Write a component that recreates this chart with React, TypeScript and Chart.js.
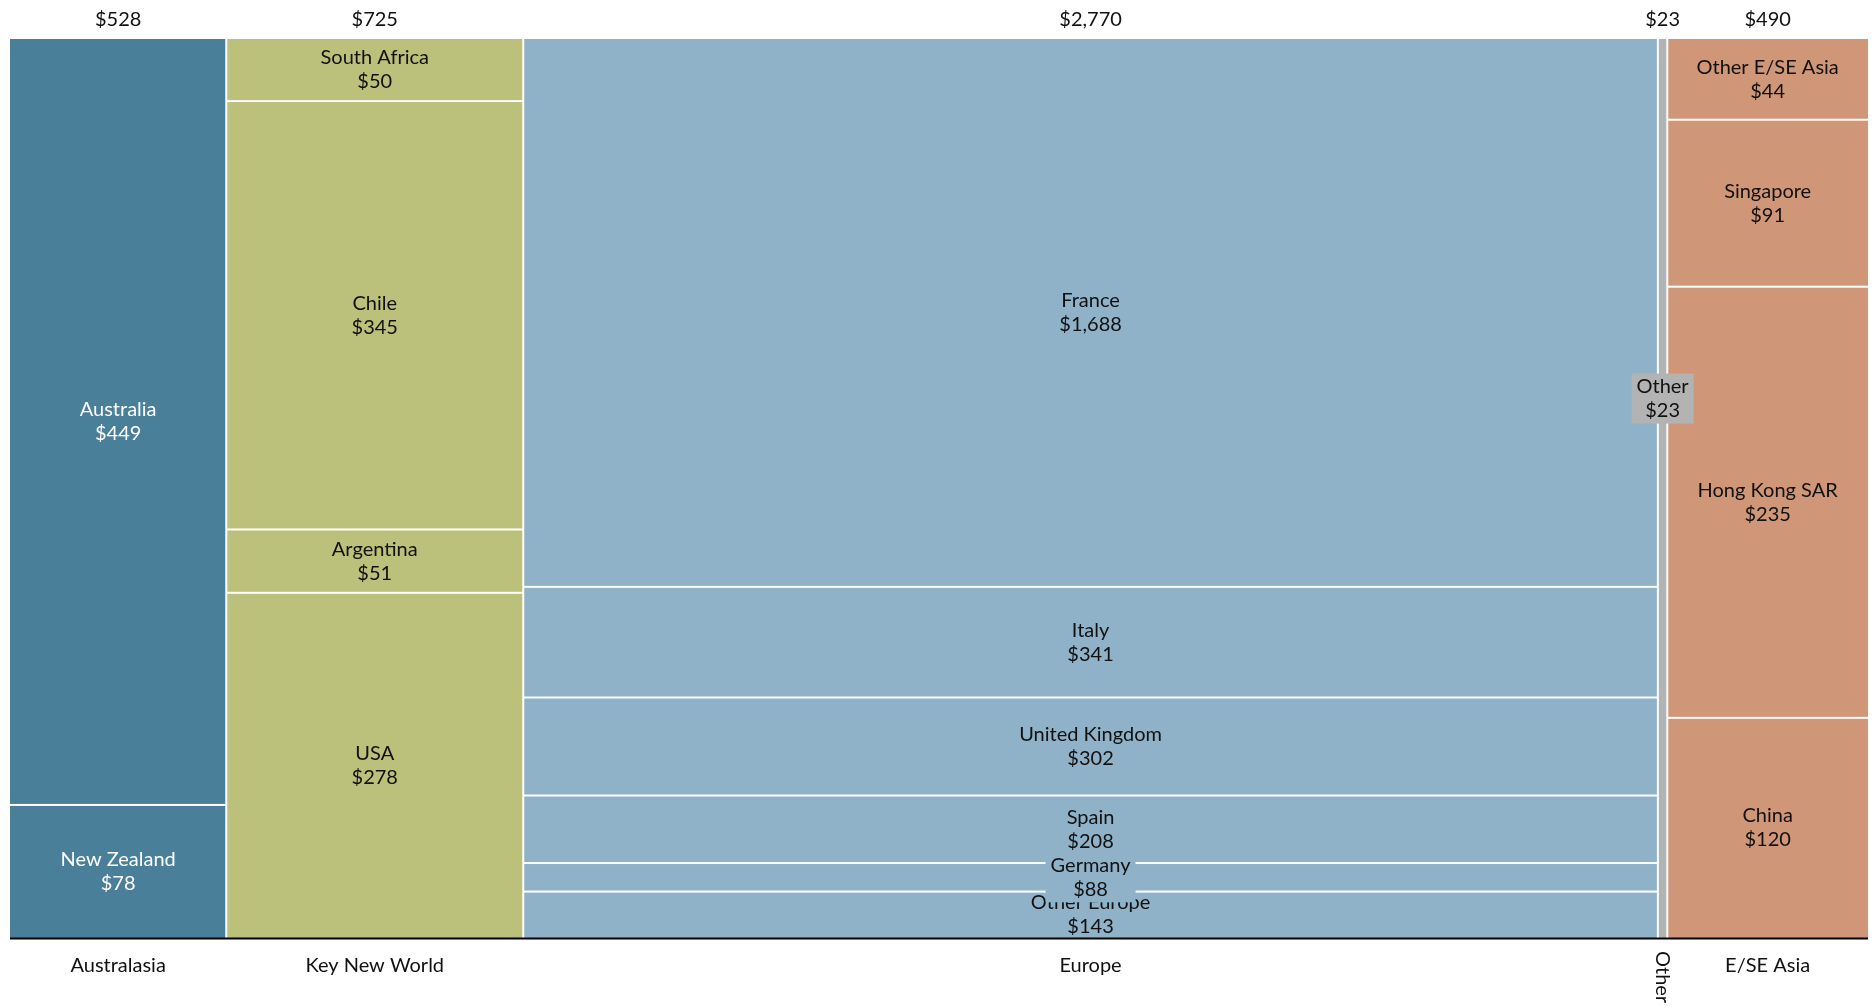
import React, { useEffect, useRef } from 'react';
import { Chart, registerables } from 'chart.js';

Chart.register(...registerables);

// ---- Data ----
const regions = ['Australasia', 'Key New World', 'Europe', 'Other', 'E/SE Asia'];
const regionTotals = [528, 725, 2770, 23, 490];
const regionColors = ['#4a7f9a', '#bbc17a', '#8fb2c8', '#b3b3b3', '#cf9677'];
const regionTextColors = ['#ffffff', '#111111', '#111111', '#111111', '#111111'];

// segments listed bottom to top
const australasiaLabels = ['New Zealand', 'Australia'];
const australasiaValues = [78, 449];
const newWorldLabels = ['USA', 'Argentina', 'Chile', 'South Africa'];
const newWorldValues = [278, 51, 345, 50];
const europeLabels = ['Other Europe', 'Germany', 'Spain', 'United Kingdom', 'Italy', 'France'];
const europeValues = [143, 88, 208, 302, 341, 1688];
const otherLabels = ['Other'];
const otherValues = [23];
const asiaLabels = ['China', 'Hong Kong SAR', 'Singapore', 'Other E/SE Asia'];
const asiaValues = [120, 235, 91, 44];

const segmentLabels = [australasiaLabels, newWorldLabels, europeLabels, otherLabels, asiaLabels];
const segmentValues = [australasiaValues, newWorldValues, europeValues, otherValues, asiaValues];

// ---- Layout / style constants ----
const FONT = '20px Lato, "Open Sans", sans-serif';
const LINE_H = 24;
const OTHER_LABEL_Y = 60; // percent position of the narrow "Other" label

const fmt = (v: number) => '$' + v.toLocaleString('en-US');

const marimekkoPlugin = {
  id: 'marimekko',
  afterDatasetsDraw(chart: any) {
    const { ctx, scales, chartArea } = chart;
    const x = scales.x;
    const y = scales.y;
    ctx.save();
    let cum = 0;
    const labelJobs: any[] = [];
    regions.forEach((region, i) => {
      const x0 = x.getPixelForValue(cum);
      const x1 = x.getPixelForValue(cum + regionTotals[i]);
      const vals = segmentValues[i];
      const sum = vals.reduce((a, b) => a + b, 0);
      let acc = 0;
      vals.forEach((v, j) => {
        const yb = y.getPixelForValue((acc / sum) * 100);
        const yt = y.getPixelForValue(((acc + v) / sum) * 100);
        ctx.fillStyle = regionColors[i];
        ctx.fillRect(x0, yt, x1 - x0, yb - yt);
        const narrow = x1 - x0 < 60;
        const cy = narrow ? y.getPixelForValue(OTHER_LABEL_Y) : (yt + yb) / 2;
        labelJobs.push({
          cx: (x0 + x1) / 2,
          cy,
          lines: [segmentLabels[i][j], fmt(v)],
          box: narrow || yb - yt < 40,
          color: regionColors[i],
          text: regionTextColors[i],
        });
        acc += v;
      });
      // horizontal separators
      acc = 0;
      ctx.fillStyle = '#ffffff';
      vals.forEach((v, j) => {
        acc += v;
        if (j < vals.length - 1) {
          const yy = y.getPixelForValue((acc / sum) * 100);
          ctx.fillRect(x0, yy - 1, x1 - x0, 2);
        }
      });
      // vertical separators
      if (i > 0) ctx.fillRect(x0 - 1, chartArea.top, 2, chartArea.bottom - chartArea.top);

      // top total label
      ctx.font = FONT;
      ctx.fillStyle = '#111111';
      ctx.textAlign = 'center';
      ctx.textBaseline = 'middle';
      ctx.fillText(fmt(regionTotals[i]), (x0 + x1) / 2, chartArea.top - 19);

      // bottom category label
      if (x1 - x0 < 60) {
        ctx.save();
        ctx.translate((x0 + x1) / 2, chartArea.bottom + 13);
        ctx.rotate(Math.PI / 2);
        ctx.textAlign = 'left';
        ctx.textBaseline = 'middle';
        ctx.fillText(region, 0, 0);
        ctx.restore();
      } else {
        ctx.fillText(region, (x0 + x1) / 2, chartArea.bottom + 28);
      }
      cum += regionTotals[i];
    });

    // segment labels
    ctx.font = FONT;
    ctx.textAlign = 'center';
    ctx.textBaseline = 'middle';
    labelJobs.forEach((job) => {
      if (job.box) {
        const w = Math.max(...job.lines.map((l: string) => ctx.measureText(l).width)) + 10;
        const h = LINE_H * 2 + 2;
        ctx.fillStyle = job.color;
        ctx.fillRect(job.cx - w / 2, job.cy - h / 2, w, h);
      }
      ctx.fillStyle = job.text;
      ctx.fillText(job.lines[0], job.cx, job.cy - LINE_H / 2);
      ctx.fillText(job.lines[1], job.cx, job.cy + LINE_H / 2);
    });

    // baseline
    ctx.fillStyle = '#000000';
    ctx.fillRect(chartArea.left, chartArea.bottom - 0.5, chartArea.right - chartArea.left, 2);
    ctx.restore();
  },
};

export default function App() {
  const ref = useRef<HTMLCanvasElement>(null);
  useEffect(() => {
    document.body.style.margin = '0';
    const total = regionTotals.reduce((a, b) => a + b, 0);
    const chart = new Chart(ref.current as HTMLCanvasElement, {
      type: 'scatter',
      data: { datasets: [{ data: [], pointRadius: 0 }] },
      options: {
        animation: false,
        responsive: true,
        maintainAspectRatio: false,
        layout: { padding: { left: 10, right: 7, top: 39, bottom: 70 } },
        plugins: { legend: { display: false }, tooltip: { enabled: false } },
        scales: {
          x: { type: 'linear', min: 0, max: total, display: false },
          y: { type: 'linear', min: 0, max: 100, display: false },
        },
      },
      plugins: [marimekkoPlugin],
    });
    return () => chart.destroy();
  }, []);
  return (
    <div style={{ position: 'relative', width: 1875, height: 1008 }}>
      <canvas ref={ref} />
    </div>
  );
}
